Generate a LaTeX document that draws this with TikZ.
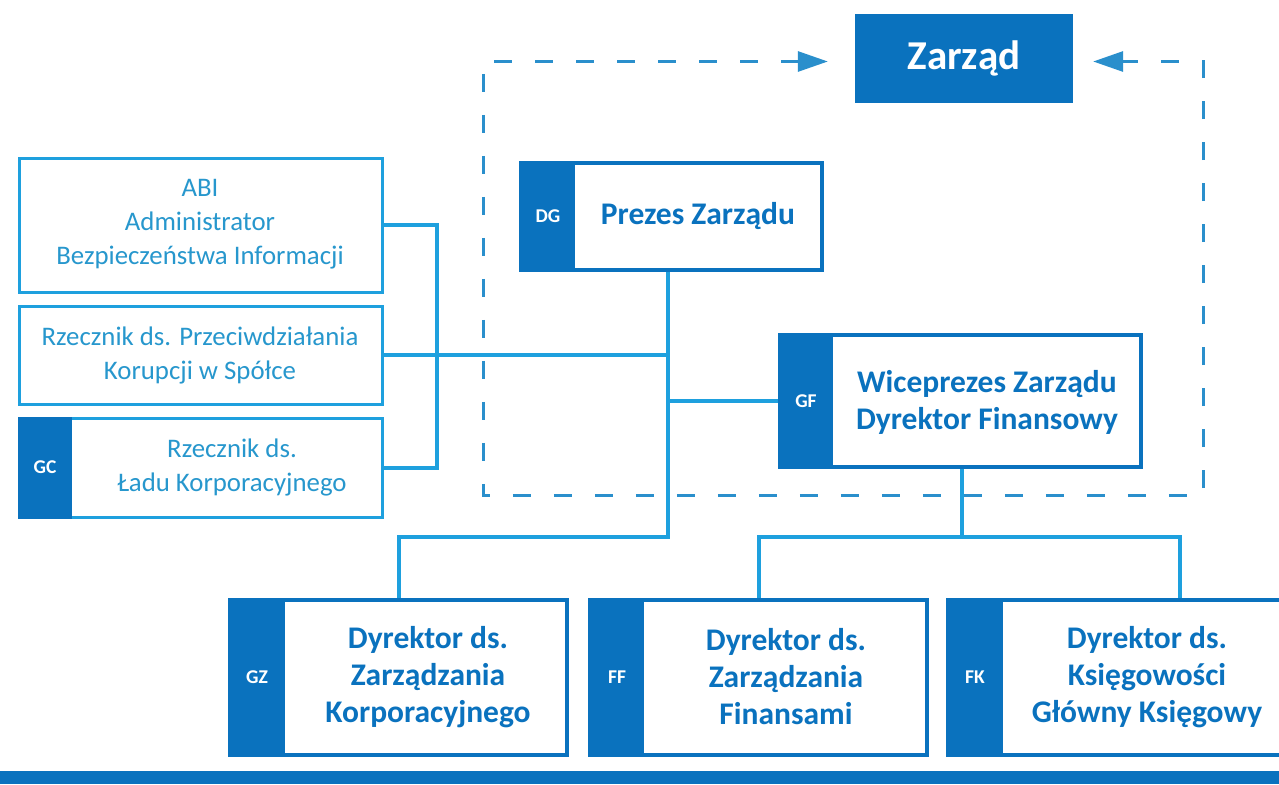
\documentclass[tikz,border=0pt]{standalone}
\usepackage{fontspec}
\setmainfont{Carlito}
\usetikzlibrary{arrows.meta,calc}
\definecolor{dblue}{HTML}{0A72BE}
\definecolor{lblue}{HTML}{1EA0DE}
\definecolor{tblue}{HTML}{2797CD}
\definecolor{dashblue}{HTML}{2A8FCC}
\begin{document}
\begin{tikzpicture}[x=1pt,y=-1pt,
  darkbox/.style={draw=dblue,line width=4pt,fill=white,inner sep=0pt},
  lightbox/.style={draw=lblue,line width=3pt,fill=white,inner sep=0pt},
  tabfill/.style={fill=dblue,draw=none},
  tablabel/.style={text=white,font=\fontsize{19.5}{22}\selectfont\bfseries},
  darktext/.style={text=dblue,align=center,font=\fontsize{31.5}{37}\selectfont\bfseries},
  lighttext/.style={text=tblue,align=center,font=\fontsize{26.8}{34}\selectfont},
  conn/.style={draw=lblue,line width=4pt},
  dashconn/.style={draw=dashblue,line width=3pt,dash pattern=on 18pt off 23pt}]
\useasboundingbox[fill=white] (0,0) rectangle (1279,784);

% Zarzad
\node[fill=dblue,minimum width=218pt,minimum height=89pt,text=white,
  font=\fontsize{41}{44}\selectfont\bfseries] (zarzad) at (964,58.5) {Zarząd};

% dashed frame
\coordinate (tl) at ($(zarzad.west)+(-27,3)$);
\coordinate (tr) at ($(zarzad.east)+(20,3)$);
\coordinate (cbl) at (483,495);
\coordinate (cbr) at (1203,495);
\draw[dashconn,{Triangle[length=30pt,width=20pt]}-{Triangle[length=30pt,width=20pt]}]
  (tl) -| (cbl) -- (cbr) |- (tr);

% left boxes
\node[lightbox,minimum width=363pt,minimum height=134pt] (abi) at (200.5,225) {};
\node[lighttext] (abit) at (200,224) {ABI\\Administrator\\Bezpieczeństwa Informacji};
\node[lightbox,minimum width=363pt,minimum height=98pt] (rz) at (200.5,355) {};
\node[lighttext] (rzt) at (200,355) {Rzecznik ds. Przeciwdziałania\\Korupcji w Spółce};
\node[lightbox,minimum width=363pt,minimum height=99pt] (gc) at (200.5,467.5) {};
\fill[tabfill] (17.5,416.5) rectangle (72,518.5);
\node[tablabel] (gcl) at (45,467.5) {GC};
\node[lighttext] (gct) at (232,467) {Rzecznik ds.\\Ładu Korporacyjnego};

% Prezes
\node[darkbox,minimum width=301pt,minimum height=107pt] (prezes) at (671.5,216.5) {};
\fill[tabfill] (519,161) rectangle (575,272);
\node[tablabel] (dgl) at (548,216.5) {DG};
\node[darktext] (prezest) at (698,216) {Prezes Zarządu};

% GF
\node[darkbox,minimum width=361pt,minimum height=132pt] (gf) at (960.5,401) {};
\fill[tabfill] (778,333) rectangle (833,469);
\node[tablabel] (gfl) at (806,401) {GF};
\node[darktext] (gft) at (987,402) {Wiceprezes Zarządu\\Dyrektor Finansowy};

% bottom row
\node[darkbox,minimum width=337pt,minimum height=155pt] (gz) at (398.5,677.5) {};
\fill[tabfill] (228,598) rectangle (285,757);
\node[tablabel] (gzl) at (257,677.5) {GZ};
\node[darktext] (gzt) at (428,677) {Dyrektor ds.\\Zarządzania\\Korporacyjnego};

\node[darkbox,minimum width=337pt,minimum height=155pt] (ff) at (758.5,677.5) {};
\fill[tabfill] (588,598) rectangle (644,757);
\node[tablabel] (ffl) at (617,677.5) {FF};
\node[darktext] (fft) at (786,677) {Dyrektor ds.\\Zarządzania\\Finansami};

\node[darkbox,minimum width=344pt,minimum height=155pt] (fk) at (1120,677.5) {};
\fill[tabfill] (946,598) rectangle (1003,757);
\node[tablabel] (fkl) at (975,677.5) {FK};
\node[darktext] (fkt) at (1147,677) {Dyrektor ds.\\Księgowości\\Główny Księgowy};

% connectors
\coordinate (j1) at (668,537);
\coordinate (j2) at (962,537);
\coordinate (fktop) at (1180,598);
\draw[conn] (abi.east) -- ++(53,0) |- (gc.east);
\draw[conn] (rz.east) -- (rz.east -| j1);
\draw[conn] (prezes.south -| j1) -- (j1) -| (gz.north);
\draw[conn] (gf.west) -- (gf.west -| j1);
\draw[conn] (gf.south -| j2) -- (j2);
\draw[conn] (ff.north) |- (j2) -| (fktop);

% bottom band
\fill[dblue] (0,771) rectangle (1279,784);
\end{tikzpicture}
\end{document}
